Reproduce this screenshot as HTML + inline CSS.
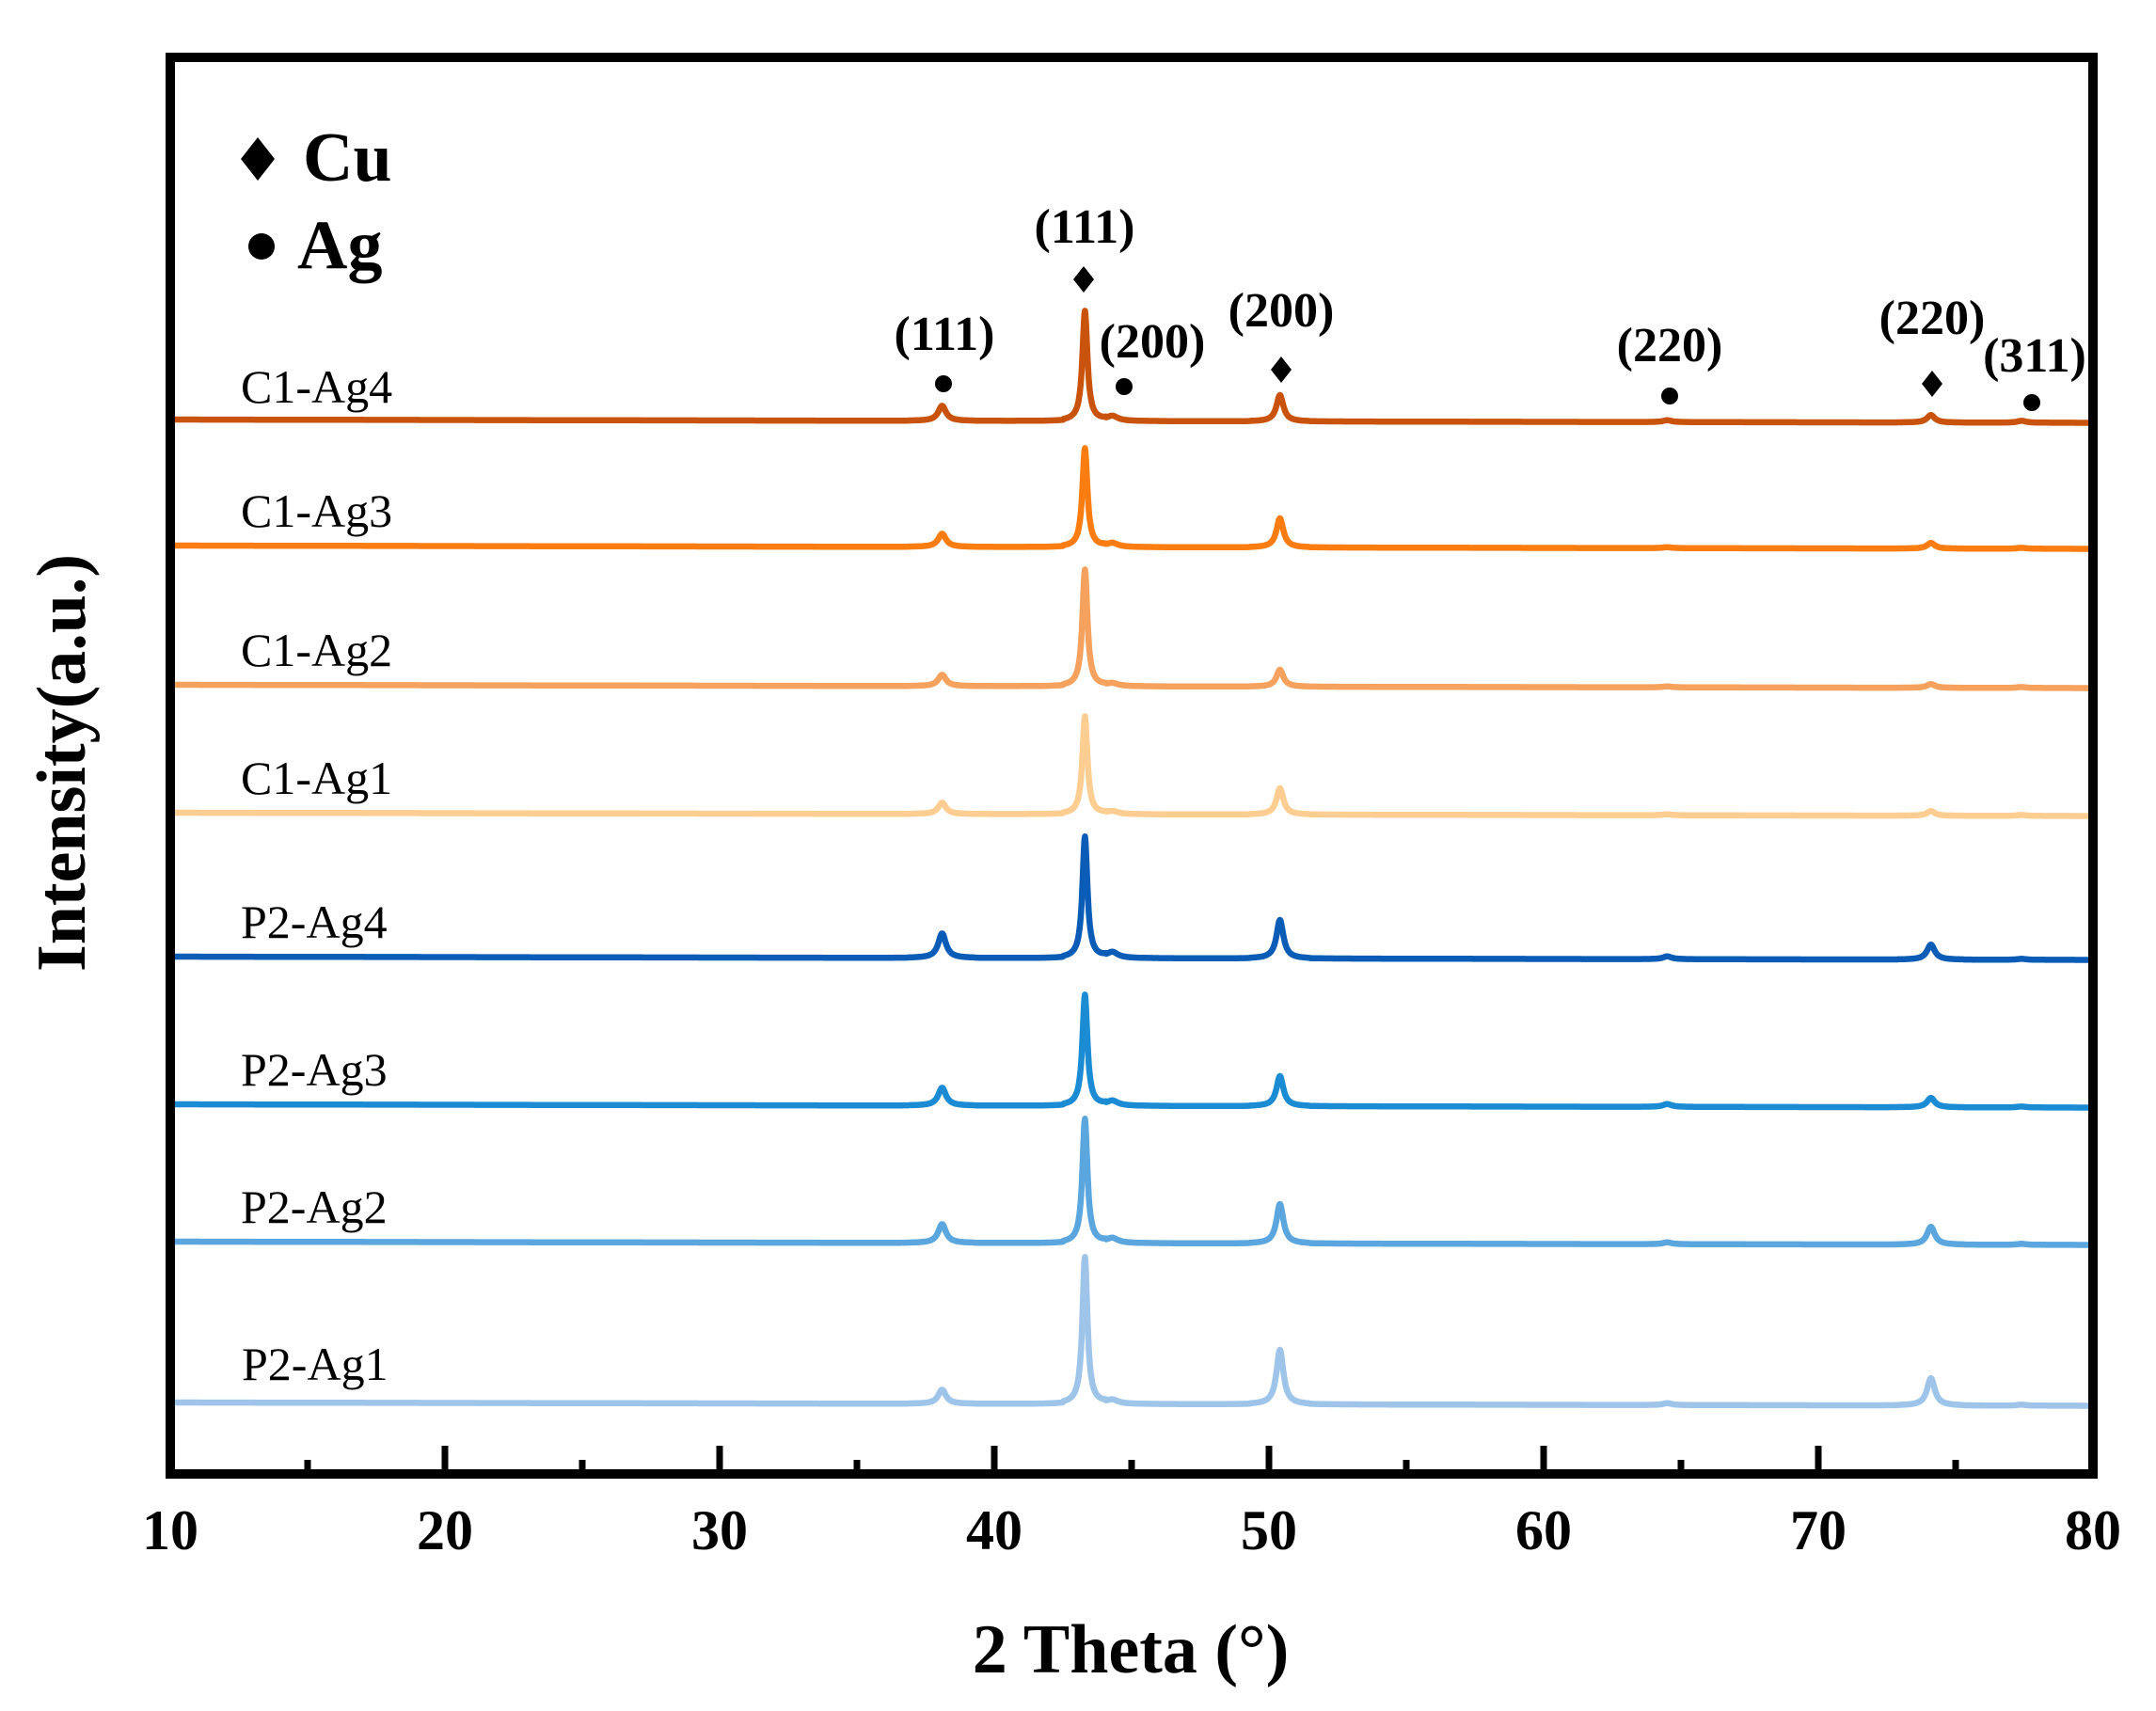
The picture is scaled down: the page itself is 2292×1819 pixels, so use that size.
<!DOCTYPE html>
<html><head><meta charset="utf-8"><style>
html,body{margin:0;padding:0;background:#fff;}
svg{display:block;}
text{font-family:"Liberation Serif",serif;fill:#000;}
</style></head><body>
<svg id="s" width="2292" height="1819" viewBox="0 0 2292 1819" xmlns="http://www.w3.org/2000/svg">
<rect width="2292" height="1819" fill="#fff"/>
<g id="curves"></g>
<rect x="181" y="61" width="2044" height="1506" fill="none" stroke="#000" stroke-width="10"/>
<g stroke="#000" stroke-width="7" id="ticks"></g>
<!-- legend -->
<polygon points="274,146 292,169 274,192 256,169" fill="#000"/>
<text x="322" y="192" font-size="74" font-weight="bold">Cu</text>
<circle cx="278" cy="262" r="14" fill="#000"/>
<text x="316" y="285" font-size="74" font-weight="bold">Ag</text>
<!-- peak labels -->
<g font-size="52" font-weight="bold" text-anchor="middle">
<text x="1004" y="372">(111)</text>
<text x="1153" y="258">(111)</text>
<text x="1225" y="380">(200)</text>
<text x="1362" y="347">(200)</text>
<text x="1775" y="384">(220)</text>
<text x="2054" y="355">(220)</text>
<text x="2163" y="395">(311)</text>
</g>
<g fill="#000">
<circle cx="1003" cy="408" r="9"/>
<polygon points="1152,283 1163,297 1152,311 1141,297"/>
<circle cx="1195" cy="411" r="9"/>
<polygon points="1362,379 1373,393 1362,407 1351,393"/>
<circle cx="1775" cy="421" r="9"/>
<polygon points="2054,394 2065,408 2054,422 2043,408"/>
<circle cx="2160" cy="428" r="9"/>
</g>
<!-- series labels -->
<g font-size="50">
<text x="256" y="428">C1-Ag4</text>
<text x="256" y="560">C1-Ag3</text>
<text x="256" y="708">C1-Ag2</text>
<text x="256" y="844">C1-Ag1</text>
<text x="256" y="997">P2-Ag4</text>
<text x="256" y="1154">P2-Ag3</text>
<text x="256" y="1300">P2-Ag2</text>
<text x="257" y="1467">P2-Ag1</text>
</g>
<!-- tick labels -->
<g font-size="60" font-weight="bold" text-anchor="middle">
<text x="181" y="1647">10</text>
<text x="473" y="1647">20</text>
<text x="765" y="1647">30</text>
<text x="1057" y="1647">40</text>
<text x="1349" y="1647">50</text>
<text x="1641" y="1647">60</text>
<text x="1933" y="1647">70</text>
<text x="2225" y="1647">80</text>
</g>
<text x="1202" y="1778" font-size="74" font-weight="bold" text-anchor="middle">2 Theta (°)</text>
<text transform="translate(90,811) rotate(-90)" font-size="74" font-weight="bold" text-anchor="middle">Intensity(a.u.)</text>
</svg>
<script>
var X=function(v){return 181+(v-10)*29.2;};
var ns="http://www.w3.org/2000/svg";
var t=document.getElementById('ticks');
for(var v=15;v<80;v+=5){var l=document.createElementNS(ns,'line');var x=X(v);var len=(v%10==0)?25:10;
l.setAttribute('x1',x);l.setAttribute('x2',x);l.setAttribute('y1',1562);l.setAttribute('y2',1562-len);t.appendChild(l);}
var S=[
[446,'#c9520c',[16,117,5,28,2,8,2]],
[580,'#fb7d12',[14,105,4,31,1,6,1]],
[728,'#f6a25e',[12,124,3,18,1,4,1]],
[864,'#fdcd92',[12,104,3,28,1,5,1]],
[1017,'#0b5cb6',[26,129,6,41,3,16,1]],
[1174,'#1b8bd4',[19,118,5,32,3,10,1]],
[1320,'#5ba6de',[20,132,5,42,2,19,1]],
[1491,'#9ec4ea',[15,156,4,58,2,29,1]]
];
var P=[38.1,43.3,44.3,50.4,64.5,74.1,77.4];
var W=[0.2,0.13,0.28,0.18,0.22,0.2,0.22];
var g=document.getElementById('curves');
S.forEach(function(s){
  var d='';
  for(var v=10;v<=80.001;v+=0.02){
    var y=s[0]+ (v-10)*0.05;
    for(var i=0;i<7;i++){var z=(v-P[i])/W[i];y-=s[2][i]/(1+z*z*1.4)*(Math.abs(z)<6?1:0.6);}
    d+=(d?'L':'M')+X(v).toFixed(1)+','+y.toFixed(1);
  }
  var p=document.createElementNS(ns,'path');
  p.setAttribute('d',d);p.setAttribute('fill','none');p.setAttribute('stroke',s[1]);
  p.setAttribute('stroke-width','6.5');p.setAttribute('stroke-linejoin','round');
  g.appendChild(p);
});
</script>
</body></html>
